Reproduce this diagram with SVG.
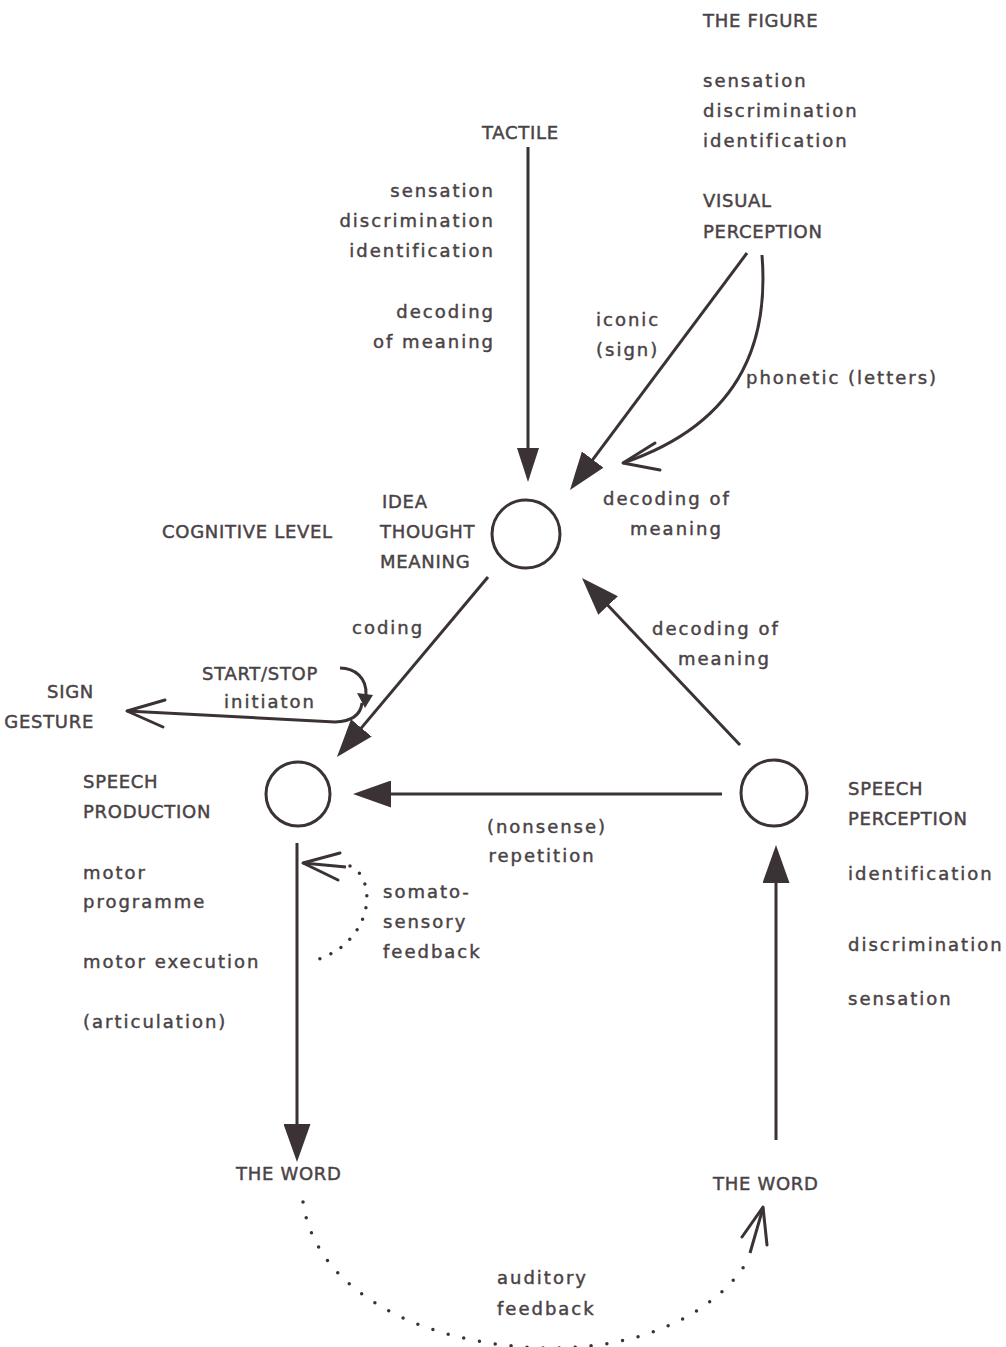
<svg xmlns="http://www.w3.org/2000/svg" width="1006" height="1347" viewBox="0 0 1006 1347">
<style>
.t{font-family:"DejaVu Sans",sans-serif;font-size:18px;fill:#4a4346;stroke:#4a4346;stroke-width:0.45;letter-spacing:2px}
.c{letter-spacing:0.7px}
.e{text-anchor:end}
.ln{fill:none;stroke:#3b3235;stroke-width:3}
.open{fill:none;stroke:#3b3235;stroke-width:3;stroke-linecap:round;stroke-linejoin:round}
.dot{fill:none;stroke:#3b3235;stroke-width:3.5;stroke-linecap:round}
.node{fill:#fff;stroke:#3b3235;stroke-width:3}
</style>
<defs>
<marker id="ah" viewBox="0 0 38 27" refX="30" refY="13.5" markerWidth="38" markerHeight="27" markerUnits="userSpaceOnUse" orient="auto"><path d="M0,0 L38,13.5 L0,27 z" fill="#3b3235"/></marker>
<marker id="ahs" viewBox="0 0 34 22" refX="26" refY="11" markerWidth="34" markerHeight="22" markerUnits="userSpaceOnUse" orient="auto"><path d="M0,0 L34,11 L0,22 z" fill="#3b3235"/></marker>
</defs>
<rect width="1006" height="1347" fill="#fff"/>

<g id="connectors">
<line class="ln" x1="528" y1="147" x2="528" y2="474" stroke-width="2.5" marker-end="url(#ahs)"/>
<line class="ln" x1="747" y1="253" x2="574.8" y2="483.6" stroke-width="4" marker-end="url(#ah)"/>
<path class="ln" d="M762,255 C768,330 750,420 623,463" stroke-width="2.5"/>
<polyline class="open" points="655,443 623,463 660,470"/>
<line class="ln" x1="488" y1="577" x2="342.1" y2="750.9" stroke-width="3.5" marker-end="url(#ah)"/>
<line class="ln" x1="740" y1="745" x2="587.5" y2="583.8" stroke-width="3.5" marker-end="url(#ah)"/>
<line class="ln" x1="722" y1="794" x2="361" y2="794" marker-end="url(#ah)"/>
<line class="ln" x1="297" y1="843" x2="297" y2="1154" stroke-width="2.5" marker-end="url(#ah)"/>
<line class="ln" x1="776" y1="1140" x2="776" y2="853" stroke-width="2" marker-end="url(#ah)"/>
<path class="ln" d="M340,668 C355,668 367,678 366,695" stroke-width="3"/>
<polygon points="365,708 357,693 373,695" fill="#3b3235"/>
<path class="ln" d="M362,703 Q360,721 335,722 L127,711" stroke-width="3.5"/>
<polyline class="open" points="165,700 127,711 163,727"/>
<path class="dot" d="M350,866 C378,878 374,942 316,960" stroke-dasharray="0 12"/>
<polyline class="open" points="340,853 303,863 338,880"/>
<line class="ln" x1="303" y1="863" x2="346" y2="867"/>
<path class="dot" d="M303,1202 C315,1290 420,1345 545,1348 C660,1350 725,1300 748,1260" stroke-dasharray="0 16"/>
<line class="ln" x1="750" y1="1253" x2="763" y2="1208" stroke-width="3.5"/>
<polyline class="open" points="742,1237 763,1207 767,1245" stroke-width="3.5"/>
</g>

<g id="figure">
<text class="t c" x="703" y="27">THE FIGURE</text>
<text class="t" x="703" y="87">sensation</text>
<text class="t" x="703" y="117">discrimination</text>
<text class="t" x="703" y="147">identification</text>
<text class="t c" x="703" y="207">VISUAL</text>
<text class="t c" x="703" y="238">PERCEPTION</text>
</g>

<g id="tactile">
<text class="t c" x="482" y="139">TACTILE</text>
<text class="t e" x="495" y="197">sensation</text>
<text class="t e" x="495" y="227">discrimination</text>
<text class="t e" x="495" y="257">identification</text>
<text class="t e" x="495" y="318">decoding</text>
<text class="t e" x="495" y="348">of meaning</text>
</g>

<g id="visual-labels">
<text class="t" x="596" y="326">iconic</text>
<text class="t" x="596" y="356">(sign)</text>
<text class="t" x="746" y="384">phonetic (letters)</text>
<text class="t" x="603" y="505">decoding of</text>
<text class="t" x="630" y="535">meaning</text>
</g>

<g id="cognitive">
<circle class="node" cx="526" cy="534" r="34"/>
<text class="t c" x="382" y="508">IDEA</text>
<text class="t c" x="380" y="538">THOUGHT</text>
<text class="t c" x="380" y="568">MEANING</text>
<text class="t c" x="162" y="538">COGNITIVE LEVEL</text>
</g>

<g id="middle-labels">
<text class="t" x="352" y="634">coding</text>
<text class="t" x="652" y="635">decoding of</text>
<text class="t" x="678" y="665">meaning</text>
<text class="t c" x="202" y="680">START/STOP</text>
<text class="t" x="224" y="708">initiaton</text>
<text class="t c e" x="94" y="698">SIGN</text>
<text class="t c e" x="94" y="728">GESTURE</text>
<text class="t" x="547" y="833" text-anchor="middle">(nonsense)</text>
<text class="t" x="542" y="862" text-anchor="middle">repetition</text>
</g>

<g id="speech-production">
<circle class="node" cx="298" cy="794" r="32"/>
<text class="t c" x="83" y="788">SPEECH</text>
<text class="t c" x="83" y="818">PRODUCTION</text>
<text class="t" x="83" y="879">motor</text>
<text class="t" x="83" y="908">programme</text>
<text class="t" x="83" y="968">motor execution</text>
<text class="t" x="83" y="1028">(articulation)</text>
<text class="t" x="383" y="898">somato-</text>
<text class="t" x="383" y="928">sensory</text>
<text class="t" x="383" y="958">feedback</text>
</g>

<g id="speech-perception">
<circle class="node" cx="774" cy="793" r="33"/>
<text class="t c" x="848" y="795">SPEECH</text>
<text class="t c" x="848" y="825">PERCEPTION</text>
<text class="t" x="848" y="880">identification</text>
<text class="t" x="848" y="951">discrimination</text>
<text class="t" x="848" y="1005">sensation</text>
</g>

<g id="words">
<text class="t c" x="236" y="1180">THE WORD</text>
<text class="t c" x="713" y="1190">THE WORD</text>
<text class="t" x="497" y="1284">auditory</text>
<text class="t" x="497" y="1315">feedback</text>
</g>
</svg>
